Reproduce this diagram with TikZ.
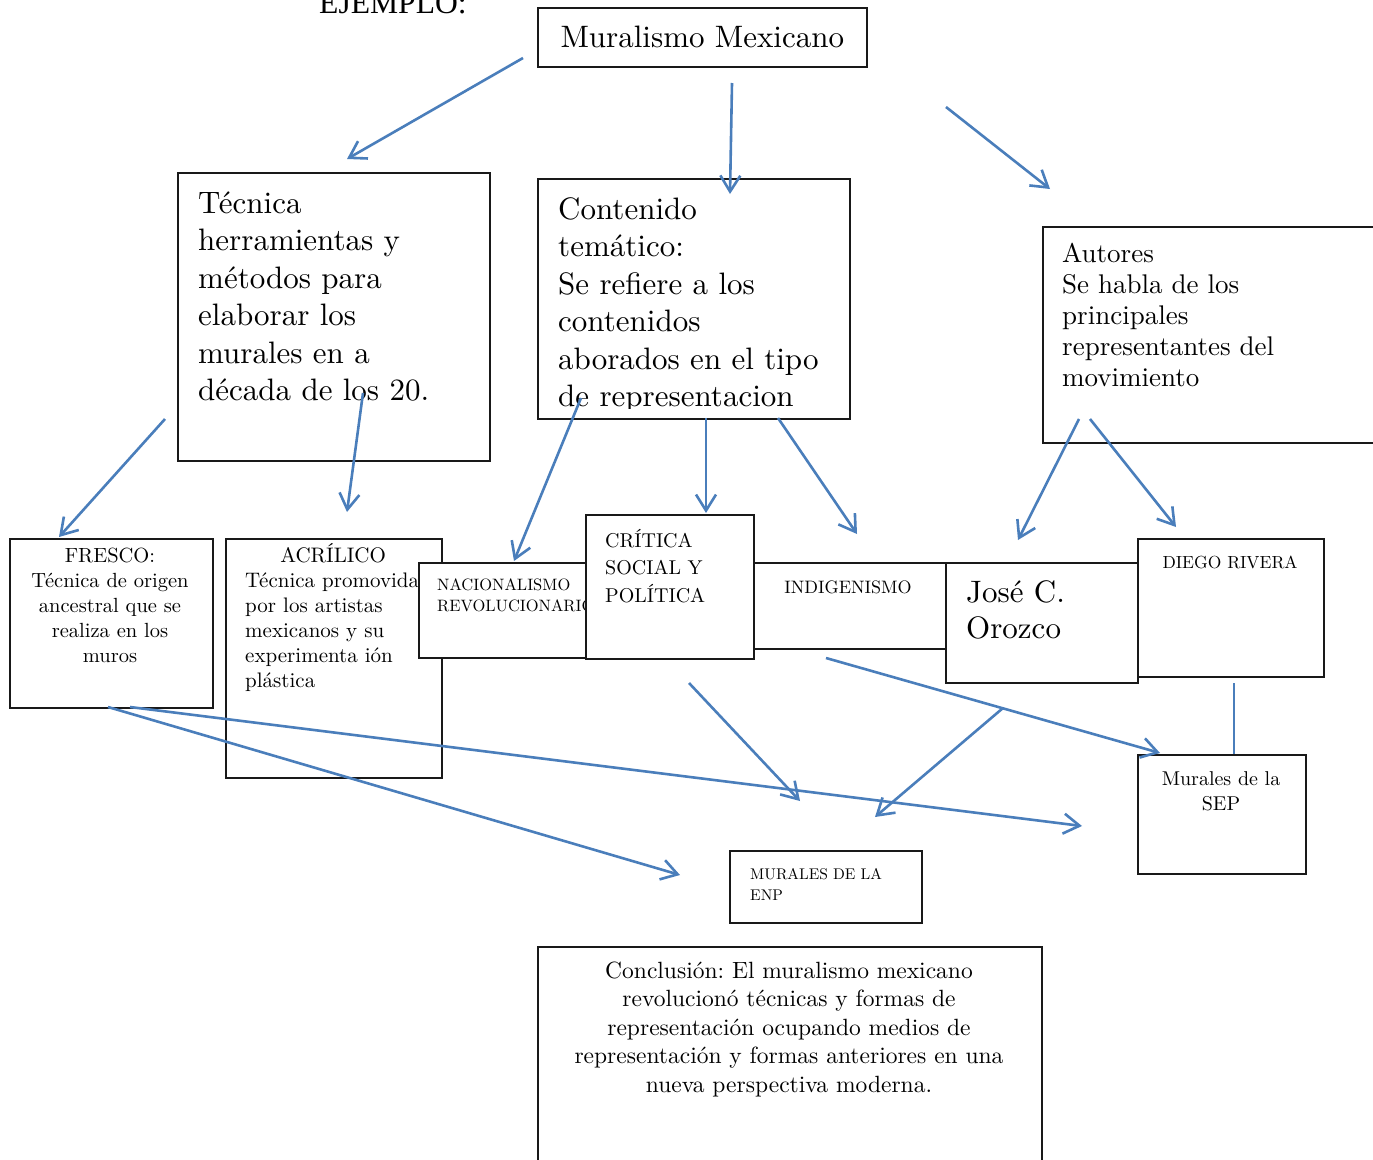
\documentclass[tikz,border=0pt]{standalone}
\usepackage{fontspec}
\setmainfont{lmroman10-regular.otf}[BoldFont=lmroman10-bold.otf, ItalicFont=lmroman10-italic.otf]
\newfontfamily\timesfont{Liberation Serif}
\usetikzlibrary{arrows.meta, positioning}
\definecolor{azulflecha}{HTML}{4A7EBB}
\newcommand{\tam}[2]{\fontsize{#1}{#2}\selectfont}
\frenchspacing
\tikzset{
    caja/.style={rectangle, draw=black!90, line width=1.6pt, fill=white, inner sep=0pt, anchor=north west},
    txtgrande/.style={inner sep=0pt, text width=300pt, align=left, anchor=base west, font=\tam{31}{37.5}},
    txtautores/.style={inner sep=0pt, text width=300pt, align=left, anchor=base west, font=\tam{27}{31}},
    txtchico/.style={inner sep=0pt, text width=220pt, align=left, anchor=base west, font=\tam{21}{25}},
    txtcentro/.style={inner sep=0pt, text width=200pt, align=center, anchor=base, font=\tam{20.5}{25}},
    txtmini/.style={inner sep=0pt, text width=200pt, align=left, anchor=base west, font=\tam{16.5}{21}},
    flecha/.style={draw=azulflecha, line width=2.6pt, -{Straight Barb[length=16pt, width=20pt]}},
    linea/.style={draw=azulflecha, line width=2.6pt},
}

\begin{document}
\begin{tikzpicture}[x=1pt, y=-1pt]

    \useasboundingbox (0,0) rectangle (1373,1159);
    \clip (0,0) rectangle (1373,1159);

    % === TITULO ===
    \node[anchor=base west, inner sep=0pt, font=\timesfont\tam{31.6}{38}] (ejemplo) at (319,13) {EJEMPLO:};
    \node[caja, minimum width=329, minimum height=59, font=\tam{31}{37}] (titulo) at (537,7) {Muralismo Mexicano};

    % === PRIMER NIVEL ===
    \node[caja, minimum width=312, minimum height=288] (tecnica) at (177,172) {};
    \node[txtgrande] (tecnicatxt) at (198,213) {Técnica\\herramientas y\\métodos para\\elaborar los\\murales en a\\década de los 20.};

    \node[caja, minimum width=312, minimum height=240] (contenido) at (537,178) {};
    \begin{scope}
        \clip (537,178) rectangle (849,408);
        \node[txtgrande] (contenidotxt) at (558,219) {Contenido\\temático:\\Se refiere a los\\contenidos\\aborados en el tipo\\de representacion};
    \end{scope}

    \node[caja, minimum width=345, minimum height=216] (autores) at (1042,226) {};
    \node[txtautores] (autorestxt) at (1062,262) {Autores\\Se habla de los\\principales\\representantes del\\movimiento};

    % === SEGUNDO NIVEL ===
    \node[caja, minimum width=203, minimum height=169] (fresco) at (9,538) {};
    \node[txtcentro] (frescotxt) at (110,562) {FRESCO:\\Técnica de origen\\ancestral que se\\realiza en los\\muros};

    \node[caja, minimum width=216, minimum height=239] (acrilico) at (225,538) {};
    \node[txtchico] (acrilicotxt) at (245,562) {\makebox[176pt]{ACRÍLICO}\\Técnica promovida\\por los artistas\\mexicanos y su\\experimenta ión\\plástica};

    \node[caja, minimum width=180, minimum height=95] (nacionalismo) at (418,562) {};
    \node[txtmini] (nacionalismotxt) at (437,590) {NACIONALISMO\\REVOLUCIONARIO};

    \node[caja, minimum width=168, minimum height=144] (critica) at (585,514) {};
    \node[txtchico, font=\tam{20}{27.5}] (criticatxt) at (605,547) {CRÍTICA\\SOCIAL Y\\POLÍTICA};

    \node[caja, minimum width=250, minimum height=86] (indigenismo) at (753,562) {};
    \node[inner sep=0pt, anchor=base, font=\tam{18}{22}] (indigenismotxt) at (848,593) {INDIGENISMO};

    \node[caja, minimum width=192, minimum height=120] (jose) at (945,562) {};
    \node[txtgrande, font=\tam{31}{36}] (josetxt) at (966,602) {José C.\\Orozco};

    \node[caja, minimum width=186, minimum height=138] (diego) at (1137,538) {};
    \node[inner sep=0pt, anchor=base, font=\tam{17.5}{22}] (diegotxt) at (1230,568) {DIEGO RIVERA};

    % === MURALES ===
    \node[caja, minimum width=168, minimum height=119] (sep) at (1137,754) {};
    \node[txtcentro, font=\tam{20}{25}] (septxt) at (1221,785) {Murales de la\\SEP};

    \node[caja, minimum width=192, minimum height=72] (enp) at (729,850) {};
    \node[txtmini, font=\tam{15.5}{21}] (enptxt) at (750,879) {MURALES DE LA\\ENP};

    % === CONCLUSION ===
    \node[caja, minimum width=504, minimum height=240] (conclusion) at (537,946) {};
    \node[inner sep=0pt, text width=500pt, align=center, anchor=base, font=\tam{23.5}{28.6}] (conclusiontxt) at (789,978) {Conclusión: El muralismo mexicano\\revolucionó técnicas y formas de\\representación ocupando medios de\\representación y formas anteriores en una\\nueva perspectiva moderna.};

    % === FLECHAS ===
    \coordinate (m1) at (523,58);   \coordinate (m1f) at (347,159);
    \coordinate (m2) at (732,83);   \coordinate (m2f) at (730,194);
    \coordinate (m3) at (946,107);  \coordinate (m3f) at (1050,189);
    \coordinate (t1) at (165,419);  \coordinate (t1f) at (59,537);
    \coordinate (t2) at (363,393);  \coordinate (t2f) at (347,512);
    \coordinate (c1) at (581,398);  \coordinate (c1f) at (514,561);
    \coordinate (c2) at (706,418);  \coordinate (c2f) at (706,513);
    \coordinate (c3) at (778,418);  \coordinate (c3f) at (857,534);
    \coordinate (a1) at (1079,419); \coordinate (a1f) at (1018,540);
    \coordinate (a2) at (1090,419); \coordinate (a2f) at (1176,527);
    \coordinate (f1) at (108,707);  \coordinate (f1f) at (680,875);
    \coordinate (f2) at (130,707);  \coordinate (f2f) at (1082,826);
    \coordinate (s1) at (689,683);  \coordinate (s1f) at (800,801);
    \coordinate (j1) at (1003,708); \coordinate (j1f) at (875,817);
    \coordinate (i1) at (826,658);  \coordinate (i1f) at (1160,753);
    \coordinate (d1) at (1234,683); \coordinate (d1f) at (1234,754);

    \draw[flecha] (m1) -- (m1f);
    \draw[flecha] (m2) -- (m2f);
    \draw[flecha] (m3) -- (m3f);
    \draw[flecha] (t1) -- (t1f);
    \draw[flecha] (t2) -- (t2f);
    \draw[flecha] (c1) -- (c1f);
    \draw[flecha] (c2) -- (c2f);
    \draw[flecha] (c3) -- (c3f);
    \draw[flecha] (a1) -- (a1f);
    \draw[flecha] (a2) -- (a2f);
    \draw[flecha] (f1) -- (f1f);
    \draw[flecha] (f2) -- (f2f);
    \draw[flecha] (s1) -- (s1f);
    \draw[flecha] (j1) -- (j1f);
    \draw[flecha] (i1) -- (i1f);
    \draw[linea] (d1) -- (d1f);

\end{tikzpicture}
\end{document}
